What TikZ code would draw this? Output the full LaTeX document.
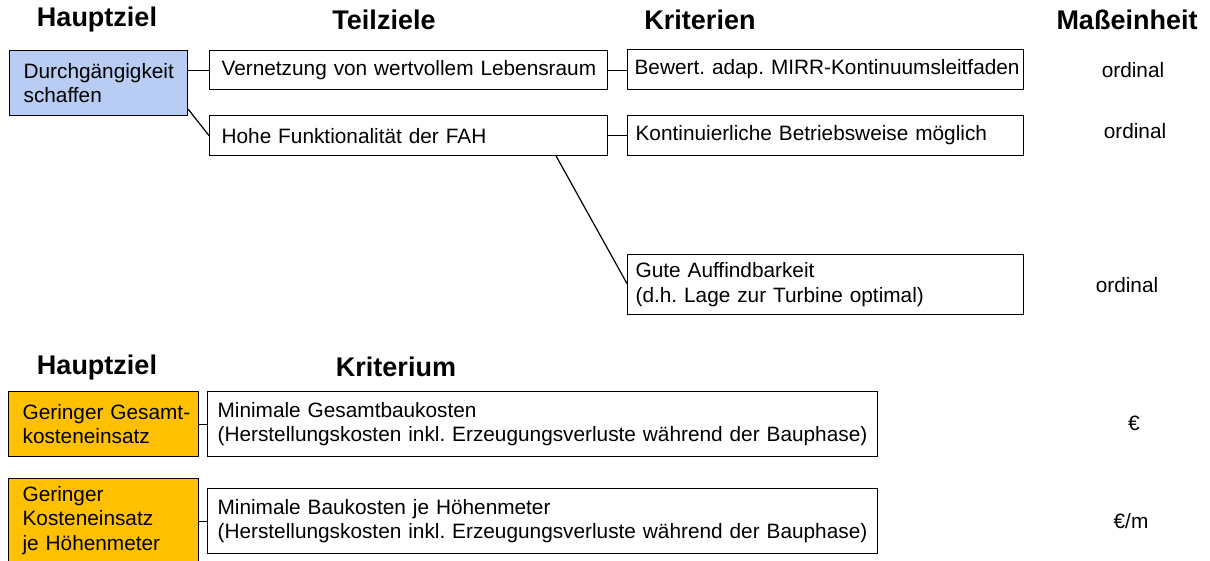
\documentclass[tikz,border=0pt]{standalone}
\usepackage{fontspec}
\setmainfont{Liberation Sans}
\usetikzlibrary{calc}
\definecolor{blueF}{RGB}{184,204,244}
\definecolor{orangeF}{RGB}{255,192,0}
\frenchspacing
\begin{document}
\begin{tikzpicture}[x=1pt,y=-1pt,
  hdr/.style={font=\fontsize{27}{31}\selectfont\bfseries, inner sep=0pt},
  unit/.style={font=\fontsize{20.8}{24}\selectfont, inner sep=0pt},
  box/.style={draw, line width=1.2pt, anchor=north west, align=left,
    font=\fontsize{20.8}{24.5}\selectfont, inner ysep=0pt},
  conn/.style={line width=1.2pt}]
\useasboundingbox (0,0) rectangle (1210,560);
% headers
\node[hdr] (h1) at (97,20) {Hauptziel};
\node[hdr] (h2) at (384,20) {Teilziele};
\node[hdr] (h3) at (700,20) {Kriterien};
\node[hdr] (h4) at (1127,20) {Maßeinheit};
\node[hdr] (h5) at (97,368) {Hauptziel};
\node[hdr] (h6) at (396,367) {Kriterium};
% top part
\node[box, fill=blueF, inner xsep=14pt, text width=150pt, minimum height=65pt] (dg) at (9,50) {\mbox{Durchgängigkeit}\\schaffen};
\node[box, inner xsep=12pt, text width=374pt, minimum height=39pt] (vn) at (209,50) {\mbox{Vernetzung von wertvollem Lebensraum}};
\node[box, inner xsep=12pt, text width=374pt, minimum height=40pt] (hf) at (209,115) {\mbox{Hohe Funktionalität der FAH}};
\node[box, inner xsep=7pt, text width=382pt, minimum height=40pt] (bw) at (627,49) {\mbox{Bewert. adap. MIRR-Kontinuumsleitfaden}};
\node[box, inner xsep=8pt, text width=380pt, minimum height=40pt] (kt) at (627,115) {\mbox{Kontinuierliche Betriebsweise möglich}};
\node[box, inner xsep=8pt, text width=380pt, minimum height=60pt] (ga) at (627,254) {\mbox{Gute Auffindbarkeit}\\\mbox{(d.h. Lage zur Turbine optimal)}};
\node[unit] (u1) at (1133,70) {ordinal};
\node[unit] (u2) at (1135,131) {ordinal};
\node[unit] (u3) at (1127,285) {ordinal};
\draw[conn] (dg.east |- vn.west) -- (vn.west);
\draw[conn] ($(dg.south east)+(0,-7)$) -- (hf.west);
\draw[conn] (vn.east) -- (bw.west |- vn.east);
\draw[conn] (hf.east) -- (kt.west);
\draw[conn] ($(hf.south east)+(-52,0)$) -- ($(ga.west)+(0,-1)$);
% bottom part
\node[box, fill=orangeF, inner xsep=14pt, text width=162pt, minimum height=65pt] (o1) at (8,391) {\mbox{Geringer Gesamt-}\\kosteneinsatz};
\node[box, fill=orangeF, inner xsep=14pt, text width=162pt, minimum height=84pt] (o2) at (8,478) {Geringer\\Kosteneinsatz\\\mbox{je Höhenmeter}};
\node[box, inner xsep=10pt, text width=650pt, minimum height=65pt] (w1) at (207,391) {\mbox{Minimale Gesamtbaukosten}\\\mbox{(Herstellungskosten inkl. Erzeugungsverluste während der Bauphase)}};
\node[box, inner xsep=10pt, text width=650pt, minimum height=65pt] (w2) at (207,488) {\mbox{Minimale Baukosten je Höhenmeter}\\\mbox{(Herstellungskosten inkl. Erzeugungsverluste während der Bauphase)}};
\node[unit] (u4) at (1134,423) {€};
\node[unit] (u5) at (1131,521) {€/m};
\draw[conn] (o1.east) -- (w1.west |- o1.east);
\draw[conn] (o2.east |- w2.west) -- (w2.west);
\end{tikzpicture}
\end{document}
